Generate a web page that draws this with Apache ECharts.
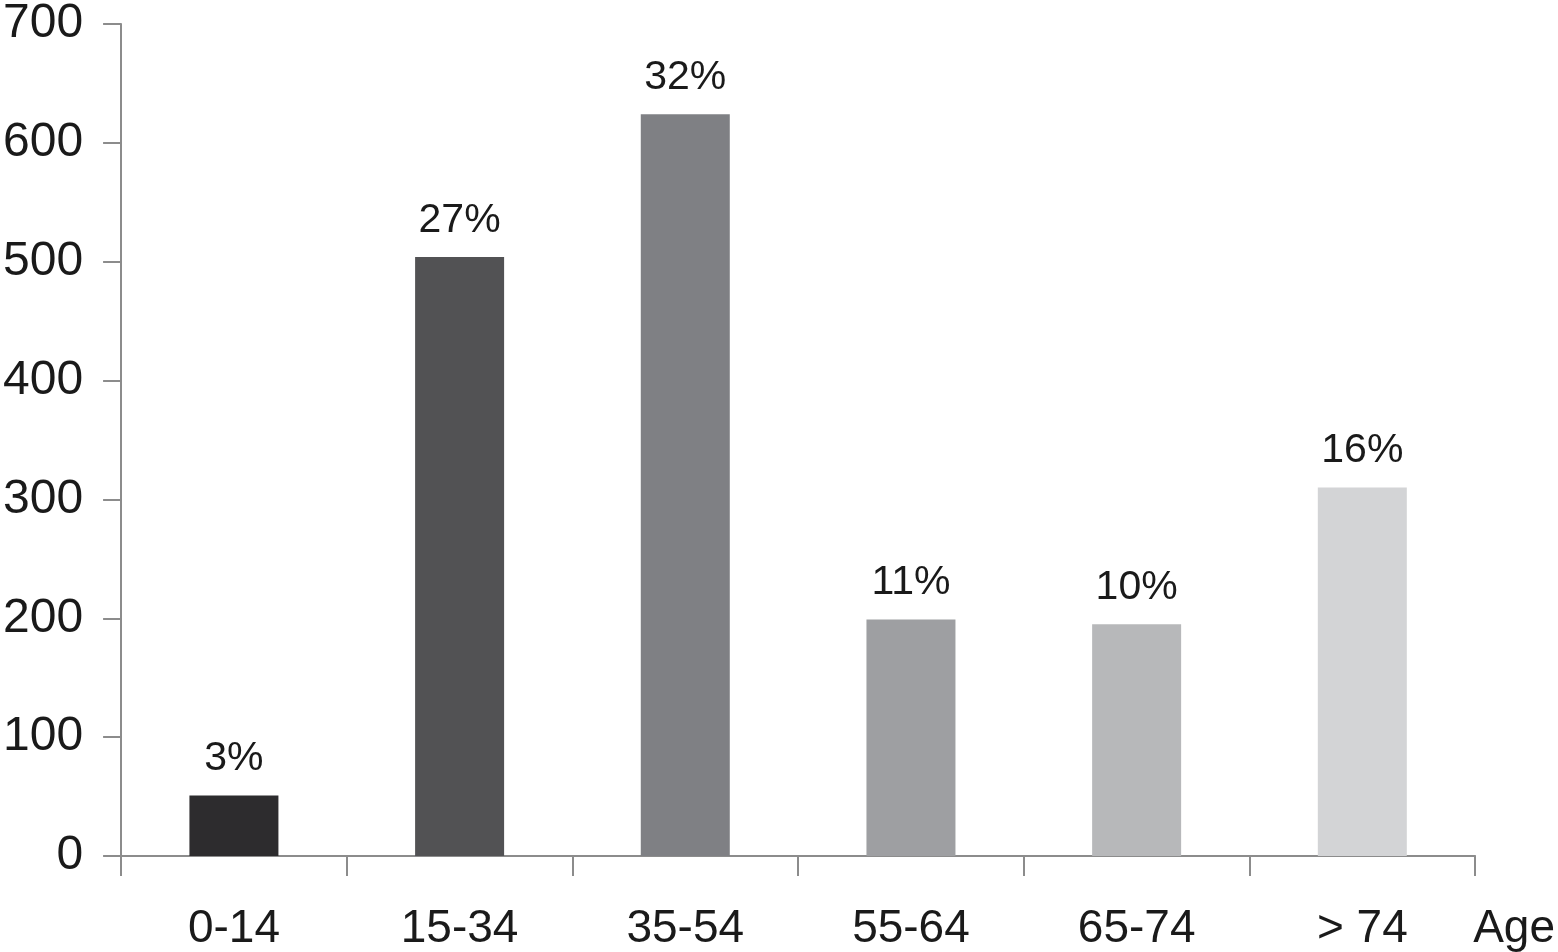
<!DOCTYPE html>
<html>
<head>
<meta charset="utf-8">
<script src="https://cdn.jsdelivr.net/npm/echarts@6/dist/echarts.min.js"></script>
<style>
  html, body { margin: 0; padding: 0; background: #fff; }
  #chart { width: 1558px; height: 952px; }
</style>
</head>
<body>
<div id="chart"></div>
<script>
  // data
  const categories = ['0-14', '15-34', '35-54', '55-64', '65-74', '> 74'];
  const counts = [51, 504, 624, 199, 195, 310];
  const percentLabels = ['3%', '27%', '32%', '11%', '10%', '16%'];
  const barColors = ['#2d2c2e', '#525254', '#7f8084', '#9e9fa2', '#b7b8ba', '#d3d4d6'];

  const font = "'Liberation Sans', Arial, Helvetica, sans-serif";
  const axisGray = '#8c8c8c';

  const chart = echarts.init(document.getElementById('chart'));
  chart.setOption({
    animation: false,
    grid: { left: 119, right: 81, top: 24, bottom: 96 },
    xAxis: {
      type: 'category',
      data: categories,
      boundaryGap: true,
      name: 'Age',
      nameLocation: 'end',
      nameGap: -2,
      nameTextStyle: {
        color: '#1a1a1a', fontSize: 46, fontFamily: font,
        align: 'left', verticalAlign: 'top', padding: [50, 0, 0, 0]
      },
      axisLine: { lineStyle: { color: axisGray, width: 2 } },
      axisTick: { show: true, length: 20, alignWithLabel: false, lineStyle: { color: axisGray, width: 2 } },
      axisLabel: { color: '#1a1a1a', fontSize: 46, fontFamily: font, margin: 50 },
      splitLine: { show: false }
    },
    yAxis: {
      type: 'value',
      min: 0,
      max: 700,
      interval: 100,
      axisLine: { show: true, lineStyle: { color: axisGray, width: 2 } },
      axisTick: { show: true, length: 18, lineStyle: { color: axisGray, width: 2 } },
      axisLabel: { color: '#1a1a1a', fontSize: 48, fontFamily: font, margin: 38 },
      splitLine: { show: false }
    },
    series: [{
      type: 'bar',
      barWidth: 89,
      data: counts.map((v, i) => ({
        value: v,
        itemStyle: { color: barColors[i] },
        label: { formatter: percentLabels[i] }
      })),
      label: {
        show: true,
        position: 'top',
        distance: 16,
        color: '#1a1a1a',
        fontSize: 41,
        fontFamily: font
      }
    }]
  });
</script>
</body>
</html>
